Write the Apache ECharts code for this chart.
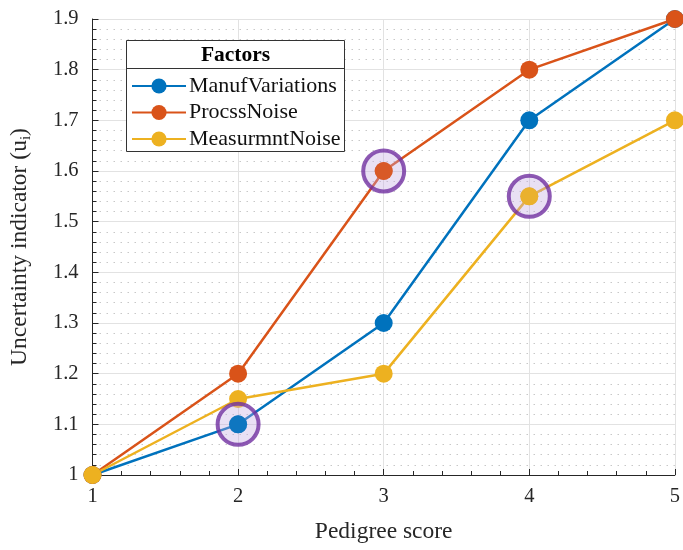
<!DOCTYPE html>
<html><head><meta charset="utf-8">
<script src="https://cdn.jsdelivr.net/npm/echarts@6/dist/echarts.min.js"></script>
<style>html,body{margin:0;padding:0;background:#fff}#c{width:683px;height:550px}</style>
</head><body><div id="c"></div>
<script>
var xCats = [1, 2, 3, 4, 5];
var manuf = [1.0, 1.1, 1.3, 1.7, 1.9];
var procss = [1.0, 1.2, 1.6, 1.8, 1.9];
var measur = [1.0, 1.15, 1.2, 1.55, 1.7];
var seriesNames = ['ManufVariations', 'ProcssNoise', 'MeasurmntNoise'];
var colors = ['#0072BD', '#D95319', '#EDB120'];
// highlighted points: [seriesIndex, pointIndex]
var highlights = [[0, 1], [1, 2], [2, 3]];

var all = [manuf, procss, measur];
var font = 'Liberation Serif, Times New Roman, serif';
var txt = '#262626';
var chart = echarts.init(document.getElementById('c'));
var series = all.map(function (d, i) {
  return {
    name: seriesNames[i], type: 'line', data: d.map(function (v, k) { return [xCats[k], v]; }),
    symbol: 'circle', symbolSize: 18, color: colors[i],
    lineStyle: { width: 2.5, color: colors[i] }, itemStyle: { color: colors[i] },
    z: 2, animation: false
  };
});
series.push({
  type: 'scatter', name: 'hl', z: 3, animation: false, silent: true,
  data: highlights.map(function (h) { return [xCats[h[1]], all[h[0]][h[1]]]; }),
  symbol: 'circle', symbolSize: 41,
  itemStyle: { color: 'rgba(195,170,225,0.45)', borderColor: '#7030A0', borderWidth: 4 }
});
series.push({
  type: 'scatter', name: 'hlp', z: 4, animation: false, silent: true,
  data: highlights.map(function (h) { return { value: [xCats[h[1]], all[h[0]][h[1]]], itemStyle: { color: colors[h[0]] } }; }),
  symbol: 'circle', symbolSize: 18
});
chart.setOption({
  animation: false,
  grid: { left: 89, right: 7, top: 19, bottom: 75, containLabel: false },
  legend: {
    data: seriesNames, orient: 'vertical', left: 131, top: 75, z: 10,
    padding: 0, itemGap: 4.5, itemWidth: 54, itemHeight: 19,
    textStyle: { fontFamily: font, fontSize: 22, color: '#111', padding: [0, 0, 0, -2] },
    itemStyle: { borderWidth: 0 }
  },
  graphic: [
    { type: 'rect', z: 9, shape: { x: 126.5, y: 40.5, width: 218, height: 111 }, style: { fill: '#fff', stroke: '#333', lineWidth: 1 } },
    { type: 'text', z: 11, x: 235.5, y: 55, style: { text: 'Factors', font: 'bold 21.5px ' + font, fill: '#000', align: 'center', verticalAlign: 'middle' } },
    { type: 'line', z: 11, shape: { x1: 126.5, y1: 68.5, x2: 344.5, y2: 68.5 }, style: { stroke: '#333', lineWidth: 1 } }
  ],
  xAxis: {
    type: 'value', min: 1, max: 5, interval: 1,
    name: 'Pedigree score', nameLocation: 'middle', nameGap: 45,
    nameTextStyle: { fontFamily: font, fontSize: 23.5, color: txt },
    axisLine: { show: true, lineStyle: { color: '#262626', width: 1 } },
    axisTick: { show: true, inside: true, length: 6, lineStyle: { color: '#262626' } },
    minorTick: { show: true, splitNumber: 5, length: 4, lineStyle: { color: '#262626' } },
    axisLabel: { fontFamily: font, fontSize: 20.5, color: txt, margin: 11 },
    splitLine: { show: true, lineStyle: { color: '#e2e2e2', width: 1 } },
    minorSplitLine: { show: false }
  },
  yAxis: {
    type: 'value', min: 1, max: 1.9, interval: 0.1,
    name: '{a|Uncertainty indicator (u}{s|i}{a|)}', nameLocation: 'middle', nameGap: 59,
    nameTextStyle: { rich: { a: { fontFamily: font, fontSize: 23.5, color: txt }, s: { fontFamily: font, fontSize: 15, color: txt, verticalAlign: 'bottom', padding: [12, 0, 0, 0] } } },
    axisLine: { show: true, lineStyle: { color: '#262626', width: 1 } },
    axisTick: { show: true, inside: true, length: 6, lineStyle: { color: '#262626' } },
    minorTick: { show: true, splitNumber: 5, length: 4, lineStyle: { color: '#262626' } },
    axisLabel: { fontFamily: font, fontSize: 20.5, color: txt, margin: 14, formatter: function (v) { return (Math.round(v * 10) / 10).toString(); } },
    splitLine: { show: true, lineStyle: { color: '#e2e2e2', width: 1 } },
    minorSplitLine: { show: true, lineStyle: { color: '#c8c8c8', width: 1, type: [1.5, 5.5] } }
  },
  series: series
});
</script></body></html>
